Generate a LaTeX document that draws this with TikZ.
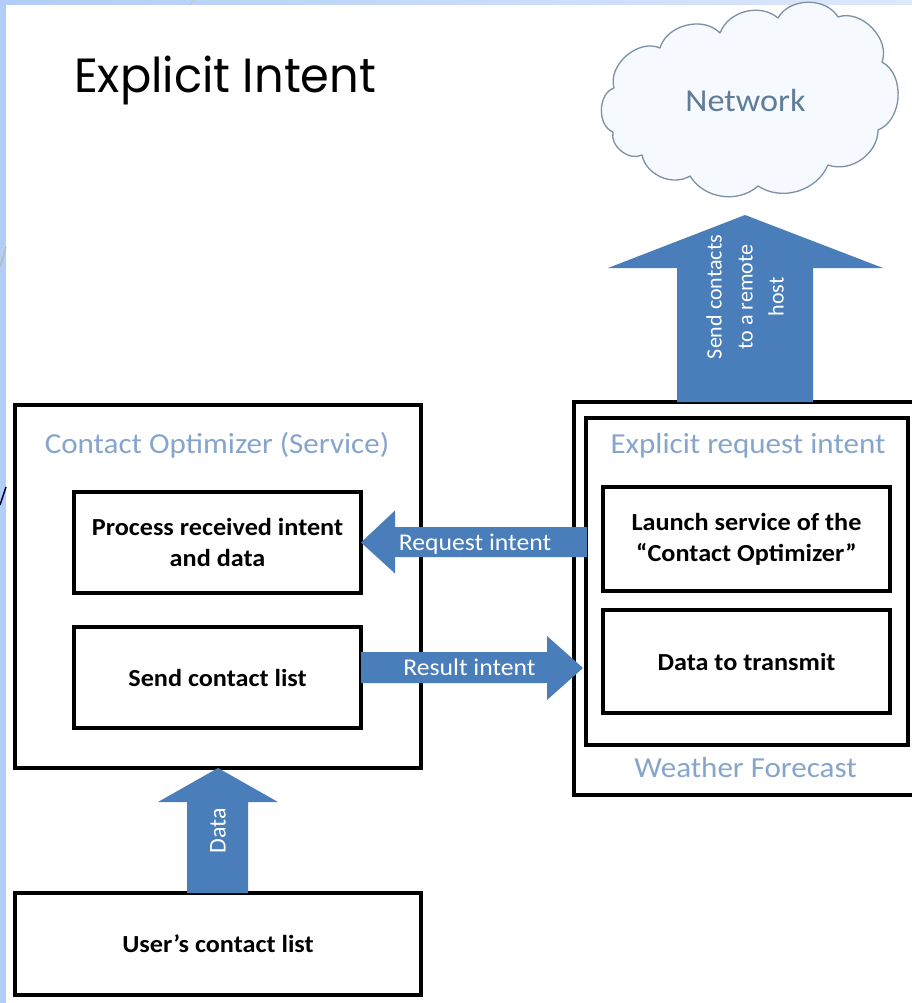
\documentclass[tikz,border=0pt]{standalone}
\usepackage{fontspec}
\newfontfamily\calfont[FakeStretch=1.07]{Carlito}
\newfontfamily\calrot{Carlito}
\newfontfamily\titlefont[FakeStretch=0.965]{Poppins}
\usetikzlibrary{calc}
\definecolor{arrowblue}{HTML}{4A7EBB}
\definecolor{grptext}{HTML}{86A5CC}
\definecolor{nettext}{HTML}{5F7C99}
\definecolor{clouddraw}{HTML}{7D90A6}
\definecolor{cloudfill}{HTML}{F6F9FD}
\definecolor{bgblue}{HTML}{B2CDF7}
\definecolor{bgblue2}{HTML}{DDE8FB}
\tikzset{
  box/.style={draw=black, line width=3.1pt, fill=white, inner sep=0pt, outer sep=0pt},
  grplabel/.style={text=grptext, font=\calfont\fontsize{29}{34}\selectfont, anchor=base, inner sep=0pt},
  boxtext/.style={font=\calfont\bfseries\fontsize{24.5}{31}\selectfont, align=center, inner sep=0pt},
  blockarrow/.style={fill=arrowblue},
  arrowtext/.style={text=white, font=\calfont\fontsize{24}{28}\selectfont, anchor=base, inner sep=0pt},
  rottext/.style={text=white, font=\calrot\fontsize{22}{31}\selectfont, rotate=90, align=center, inner sep=0pt},
  puff/.style={bend left=#1},
  cloudline/.style={draw=clouddraw, fill=cloudfill, line width=1.3pt, line join=round}
}
\begin{document}
\begin{tikzpicture}[x=1pt, y=-1pt]
\useasboundingbox (0,0) rectangle (912,1003);
% background
\fill[bgblue] (0,0) rectangle (912,1003);
\shade[left color=bgblue, right color=bgblue2] (0,0) rectangle (912,5);
\fill[white] (6,5) rectangle (912,1003);
\draw[gray!45, line width=1pt] (195,0) -- (189,5);
\draw[gray!55, line width=1.2pt] (6,247) -- (0,267);
\draw[black!75!blue, line width=1.5pt] (6,487) -- (0,505);

% title
\node[anchor=base west, inner sep=0pt, font=\titlefont\fontsize{48}{56}\selectfont] (title) at (74,93) {Explicit Intent};

% cloud
\draw[cloudline] (613,132) to[puff=70] (614,88)
  to[puff=65] (660,48) to[puff=60] (720,33) to[puff=55] (778,18)
  to[puff=60] (838,17) to[puff=65] (882,62) to[puff=65] (878,130)
  to[puff=55] (828,165) to[puff=50] (758,186) to[puff=50] (690,176)
  to[puff=55] (642,155) to[puff=65] cycle;
\node[text=nettext, font=\calfont\fontsize{32}{36}\selectfont, anchor=base, inner sep=0pt] (network) at (745.5,112) {Network};

% left service
\node[box, minimum width=406pt, minimum height=363pt] (outerL) at (218,586.5) {};
\node[grplabel] (outerLtitle) at (217,453) {Contact Optimizer (Service)};
\node[box, minimum width=287pt, minimum height=101pt] (procBox) at (217.5,542.5) {};
\node[boxtext] (procText) at (procBox.center) {Process received intent\\and data};
\node[box, minimum width=287pt, minimum height=101pt] (sendBox) at (217.5,677.5) {};
\node[boxtext] (sendText) at (sendBox.center) {Send contact list};

% user contact list
\node[box, minimum width=406pt, minimum height=102pt] (userBox) at (218,944) {};
\node[boxtext] (userText) at (userBox.center) {User’s contact list};

% right weather forecast
\node[box, minimum width=346pt, minimum height=393pt] (outerR) at (747,598.5) {};
\node[box, minimum width=322pt, minimum height=327pt] (innerR) at (747,581.5) {};
\node[grplabel] (innerRtitle) at (748,453) {Explicit request intent};
\node[grplabel] (outerRtitle) at (745.5,777) {Weather Forecast};
\node[box, minimum width=287pt, minimum height=104pt] (launchBox) at (746.5,539) {};
\node[boxtext] (launchText) at (launchBox.center) {Launch service of the\\“Contact Optimizer”};
\node[box, minimum width=287pt, minimum height=103pt] (dataBox) at (746.5,661.5) {};
\node[boxtext] (dataText) at (dataBox.center) {Data to transmit};

% block arrows
% request intent: from launch side to process box
\fill[blockarrow] (procBox.east) -- ++(34,-32) -- ++(0,16.5) -- ++(192,0) -- ++(0,30) -- ++(-192,0) -- ++(0,16.5) -- cycle;
\node[arrowtext] (reqText) at (475,550.5) {Request intent};
% result intent
\fill[blockarrow] ($(sendBox.east)+(0,-25.5)$) -- ++(186,0) -- ++(0,-16) -- ++(36,32) -- ++(-36,32) -- ++(0,-17) -- ++(-186,0) -- cycle;
\node[arrowtext] (resText) at (469.5,675) {Result intent};
% send to network
\fill[blockarrow] ($(outerR.north)+(-70,0)$) -- ++(0,-134) -- ++(-69,0) -- ++(137,-53) -- ++(138,53) -- ++(-70,0) -- ++(0,134) -- cycle;
\node[rottext] (netText) at (745,297) {Send contacts\\to a remote\\host};
% data arrow
\fill[blockarrow] ($(userBox.north)+(-31,0)$) -- ++(0,-91) -- ++(-29,0) -- ++(60,-34) -- ++(60,34) -- ++(-30,0) -- ++(0,91) -- cycle;
\node[rottext, font=\calrot\fontsize{24}{28}\selectfont] (dataArrowText) at (218,831) {Data};
\end{tikzpicture}
\end{document}
